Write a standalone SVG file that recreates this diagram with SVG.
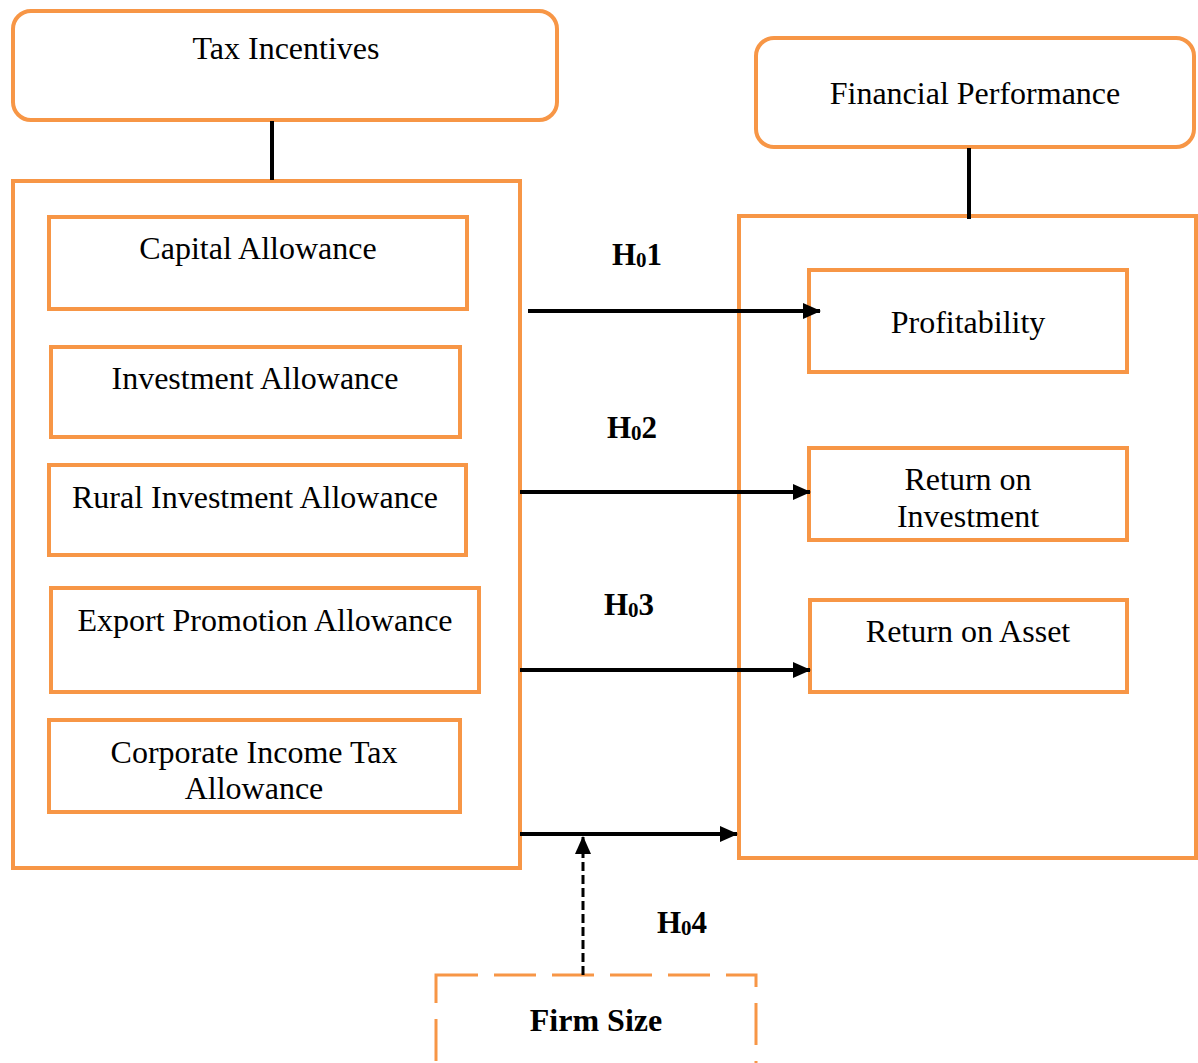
<svg xmlns="http://www.w3.org/2000/svg" width="1198" height="1063" viewBox="0 0 1198 1063">
<defs>
<marker id="ah" markerWidth="18" markerHeight="16" refX="17" refY="8" orient="auto" markerUnits="userSpaceOnUse">
<path d="M0,0 L18,8 L0,16 Z" fill="#000"/>
</marker>
<style>
.box{fill:#fff;stroke:#F79646;stroke-width:4}
.t{font-family:"Liberation Serif","Times New Roman",serif;font-size:32px;fill:#000;text-anchor:middle}
.h{font-family:"Liberation Serif","Times New Roman",serif;font-size:31px;font-weight:bold;fill:#000;text-anchor:middle}
.f{font-family:"Liberation Serif","Times New Roman",serif;font-size:32px;font-weight:bold;fill:#000;text-anchor:middle}
.c{stroke:#000;stroke-width:4;fill:none}
</style>
</defs>
<rect width="1198" height="1063" fill="#fff"/>
<g id="tax-incentives"><rect class="box" x="13" y="11" width="544" height="109" rx="18"/><text class="t" x="286" y="59">Tax Incentives</text></g>
<g id="tax-group"><rect class="box" x="13" y="181" width="507" height="687"/></g>
<g id="capital-allowance"><rect class="box" x="49" y="217" width="418" height="92"/><text class="t" x="258" y="259">Capital Allowance</text></g>
<g id="investment-allowance"><rect class="box" x="51" y="347" width="409" height="90"/><text class="t" x="255" y="389">Investment Allowance</text></g>
<g id="rural-investment-allowance"><rect class="box" x="49" y="465" width="417" height="90"/><text class="t" x="255" y="508">Rural Investment Allowance</text></g>
<g id="export-promotion-allowance"><rect class="box" x="51" y="588" width="428" height="104"/><text class="t" x="265" y="631">Export Promotion Allowance</text></g>
<g id="corporate-income-tax-allowance"><rect class="box" x="49" y="720" width="411" height="92"/><text class="t" x="254" y="763">Corporate Income Tax</text><text class="t" x="254" y="799">Allowance</text></g>
<g id="financial-performance"><rect class="box" x="756" y="38" width="438" height="109" rx="18"/><text class="t" x="975" y="104">Financial Performance</text></g>
<g id="performance-group"><rect class="box" x="739" y="216" width="457" height="642"/></g>
<g id="profitability"><rect class="box" x="809" y="270" width="318" height="102"/><text class="t" x="968" y="333">Profitability</text></g>
<g id="return-on-investment"><rect class="box" x="809" y="448" width="318" height="92"/><text class="t" x="968" y="490">Return on</text><text class="t" x="968" y="527">Investment</text></g>
<g id="return-on-asset"><rect class="box" x="810" y="600" width="317" height="92"/><text class="t" x="968" y="642">Return on Asset</text></g>
<g id="firm-size"><rect x="436" y="975" width="320" height="100" fill="#fff" stroke="#F79646" stroke-width="3" stroke-dasharray="42,16"/><text class="f" x="596" y="1031">Firm Size</text></g>
<g id="connectors">
<line class="c" x1="272" y1="121" x2="272" y2="180"/>
<line class="c" x1="969" y1="148" x2="969" y2="219"/>
<line class="c" x1="528" y1="311" x2="820" y2="311" marker-end="url(#ah)"/>
<line class="c" x1="520" y1="492" x2="810" y2="492" marker-end="url(#ah)"/>
<line class="c" x1="520" y1="670" x2="810" y2="670" marker-end="url(#ah)"/>
<line class="c" x1="520" y1="834" x2="737" y2="834" marker-end="url(#ah)"/>
<line x1="583" y1="975" x2="583" y2="837" stroke="#000" stroke-width="3" stroke-dasharray="9,4" marker-end="url(#ah)"/>
<text class="h" x="637" y="265">H<tspan font-size="21" dy="2">0</tspan><tspan dy="-2">1</tspan></text>
<text class="h" x="632" y="438">H<tspan font-size="21" dy="2">0</tspan><tspan dy="-2">2</tspan></text>
<text class="h" x="629" y="615">H<tspan font-size="21" dy="2">0</tspan><tspan dy="-2">3</tspan></text>
<text class="h" x="682" y="933">H<tspan font-size="21" dy="2">0</tspan><tspan dy="-2">4</tspan></text>
</g>
</svg>
